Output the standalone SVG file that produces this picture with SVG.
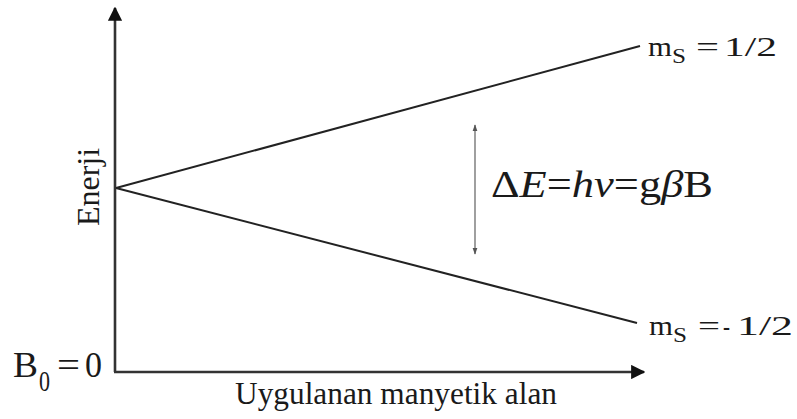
<svg xmlns="http://www.w3.org/2000/svg" width="797" height="419" viewBox="0 0 797 419">
<style>
text{font-family:"Liberation Serif","DejaVu Serif","Times New Roman",serif;fill:#1a1a1a}
.ax{stroke:#333;stroke-width:2.6;fill:none}
.ln{stroke:#222;stroke-width:2;fill:none}
</style>
<defs>
<marker id="ah" viewBox="0 0 10 10" refX="9" refY="5" markerWidth="5.5" markerHeight="5.5" orient="auto"><path d="M0,0L10,5L0,10z" fill="#111"/></marker>
<marker id="sm" viewBox="0 0 10 10" refX="9" refY="5" markerWidth="4.5" markerHeight="4.5" orient="auto-start-reverse"><path d="M0,1.5L10,5L0,8.5z" fill="#555"/></marker>
</defs>
<g id="connectors">
<path class="ax" d="M115,372V8" marker-end="url(#ah)"/>
<path class="ax" d="M114,372H644" marker-end="url(#ah)"/>
<path class="ln" d="M116,188L640,46"/>
<path class="ln" d="M116,188L637,323"/>
<path d="M475,125V254" stroke="#888" stroke-width="1.6" marker-start="url(#sm)" marker-end="url(#sm)"/>
</g>
<g id="label-up" font-size="28">
<text x="648" y="56" textLength="24" lengthAdjust="spacingAndGlyphs">m</text>
<text x="672" y="63" font-size="20" textLength="14" lengthAdjust="spacingAndGlyphs">S</text>
<text x="696" y="56" textLength="23" lengthAdjust="spacingAndGlyphs">=</text>
<text x="724" y="56" textLength="53" lengthAdjust="spacingAndGlyphs">1/2</text>
</g>
<g id="label-down" font-size="28">
<text x="649" y="335" textLength="24" lengthAdjust="spacingAndGlyphs">m</text>
<text x="673" y="342" font-size="20" textLength="14" lengthAdjust="spacingAndGlyphs">S</text>
<text x="698" y="335" textLength="22" lengthAdjust="spacingAndGlyphs">=</text>
<text x="723" y="335" textLength="7" lengthAdjust="spacingAndGlyphs">-</text>
<text x="737" y="335" textLength="56" lengthAdjust="spacingAndGlyphs">1/2</text>
</g>
<g id="label-b0" font-size="36">
<text x="13" y="377" textLength="25" lengthAdjust="spacingAndGlyphs">B</text>
<text x="39" y="391" font-size="30" textLength="11" lengthAdjust="spacingAndGlyphs">0</text>
<text x="57" y="377" textLength="23" lengthAdjust="spacingAndGlyphs">=</text>
<text x="85" y="377" textLength="17" lengthAdjust="spacingAndGlyphs">0</text>
</g>
<g id="label-de"><text x="491" y="197" font-size="37" textLength="222" lengthAdjust="spacingAndGlyphs">Δ<tspan font-style="italic">E</tspan>=<tspan font-style="italic">hν</tspan>=g<tspan font-style="italic">β</tspan>B</text></g>
<g id="label-x"><text x="235" y="404" font-size="32" textLength="322" lengthAdjust="spacingAndGlyphs">Uygulanan manyetik alan</text></g>
<g id="label-y"><text transform="translate(99,187) rotate(-90)" font-size="32" text-anchor="middle">Enerji</text></g>
</svg>
